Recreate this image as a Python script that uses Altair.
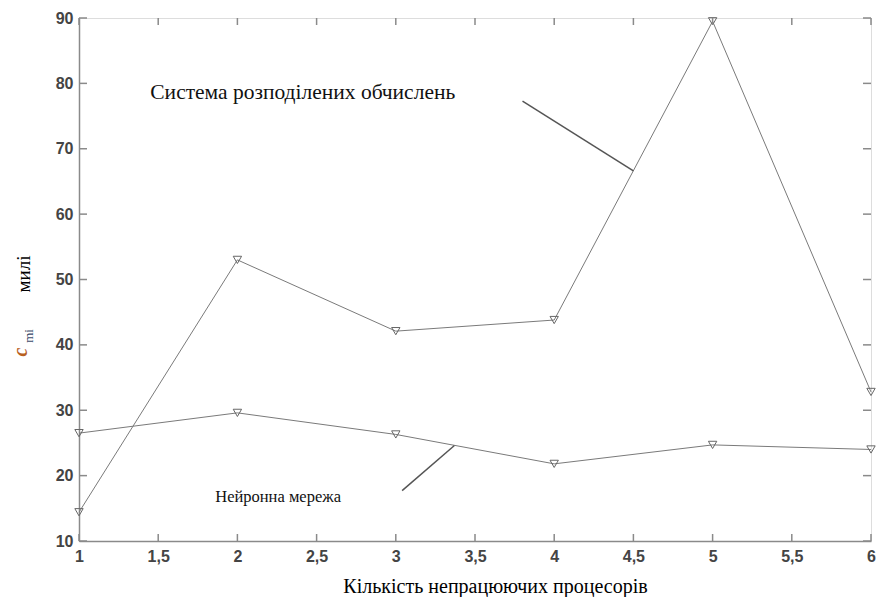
import altair as alt
import pandas as pd

# ---- data ----
x_vals = [1, 2, 3, 4, 5, 6]
system_vals = [14.4, 53.0, 42.1, 43.8, 89.5, 32.8]
neural_vals = [26.5, 29.6, 26.3, 21.8, 24.7, 24.0]
series_names = ["Система розподілених обчислень", "Нейронна мережа"]

x_ticks = [1, 1.5, 2, 2.5, 3, 3.5, 4, 4.5, 5, 5.5, 6]
y_ticks = [10, 20, 30, 40, 50, 60, 70, 80, 90]

label_texts = ["Система розподілених обчислень", "Нейронна мережа"]
label_x = [1.45, 1.86]
label_y = [78.5, 16.8]
label_sizes = [21.5, 16.5]
leader_x = [3.80, 3.04]
leader_y = [77.3, 17.7]
leader_x2 = [4.50, 3.37]
leader_y2 = [66.6, 24.6]

x_title = "Кількість непрацюючих процесорів"

W, H = 792, 523
AX = "#8a8a8a"

xs = alt.Scale(domain=[1, 6], nice=False, zero=False)
ys = alt.Scale(domain=[10, 90], nice=False, zero=False)

rows = []
for name, vals in zip(series_names, [system_vals, neural_vals]):
    for xv, yv in zip(x_vals, vals):
        rows.append({"x": xv, "y": yv, "series": name})
df = pd.DataFrame(rows)

base = alt.Chart(df)
lines = base.mark_line(color="#7a7a7a", strokeWidth=1).encode(
    x=alt.X("x:Q", scale=xs, axis=alt.Axis(
        values=x_ticks, tickSize=0, grid=False, labelFlush=False, labelOverlap=False,
        labelExpr="replace(toString(datum.value), '.', ',')",
        labelFont="Liberation Sans", labelFontSize=16, labelFontWeight="bold",
        labelColor="#444", labelPadding=7, domainColor=AX, domainWidth=1.5,
        title=x_title, titleFont="Liberation Serif", titleFontSize=20,
        titleFontWeight="normal", titleColor="#000", titleY=51, titleX=416,
        titleAlign="center", titleBaseline="alphabetic")),
    y=alt.Y("y:Q", scale=ys, axis=alt.Axis(
        values=y_ticks, tickSize=0, grid=False, labelFlush=False, labelOverlap=False,
        labelFont="Liberation Sans", labelFontSize=16, labelFontWeight="bold",
        labelColor="#444", labelPadding=6, domainColor=AX, domainWidth=1.5, title=None)),
    detail="series:N",
)
points = base.mark_point(shape="triangle-down", filled=False, size=70,
                         color="#666", strokeWidth=1, opacity=1).encode(
    x=alt.X("x:Q", scale=xs), y=alt.Y("y:Q", scale=ys), detail="series:N")

# inward ticks
xt = pd.DataFrame({"x": x_ticks})
yt = pd.DataFrame({"y": y_ticks})
tick_style = dict(color=AX, strokeWidth=1.5)
bt = alt.Chart(xt).mark_rule(**tick_style).encode(
    x=alt.X("x:Q", scale=xs), y=alt.value(H), y2=alt.value(H - 7))
tt = alt.Chart(xt).mark_rule(**tick_style).encode(
    x=alt.X("x:Q", scale=xs), y=alt.value(0), y2=alt.value(7))
lt = alt.Chart(yt).mark_rule(**tick_style).encode(
    y=alt.Y("y:Q", scale=ys), x=alt.value(0), x2=alt.value(8))
rt = alt.Chart(yt).mark_rule(**tick_style).encode(
    y=alt.Y("y:Q", scale=ys), x=alt.value(W), x2=alt.value(W - 8))

# annotations
ann = pd.DataFrame({"t": label_texts, "x": label_x, "y": label_y, "s": label_sizes,
                    "x1": leader_x, "y1": leader_y, "x2": leader_x2, "y2": leader_y2})
texts = []
for i in range(len(label_texts)):
    texts.append(alt.Chart(ann.iloc[[i]]).mark_text(
        align="left", baseline="middle", font="Liberation Serif",
        fontSize=label_sizes[i], color="#111").encode(
        x=alt.X("x:Q", scale=xs), y=alt.Y("y:Q", scale=ys), text="t:N"))
leaders = alt.Chart(ann).mark_rule(color="#555", strokeWidth=1.5).encode(
    x=alt.X("x1:Q", scale=xs), y=alt.Y("y1:Q", scale=ys),
    x2="x2:Q", y2="y2:Q")

# y-axis title pieces
yt1 = alt.Chart(pd.DataFrame({"t": ["милі"]})).mark_text(
    angle=270, font="Liberation Serif", fontSize=19, color="#000",
    align="center", baseline="middle").encode(
    text="t:N", x=alt.value(-55), y=alt.value(256))
yt2 = alt.Chart(pd.DataFrame({"t": ["c"]})).mark_text(
    angle=270, font="Liberation Serif", fontSize=20, fontStyle="italic",
    fontWeight="bold", color="#b8611f", align="center", baseline="middle").encode(
    text="t:N", x=alt.value(-58), y=alt.value(334))
yt3 = alt.Chart(pd.DataFrame({"t": ["mi"]})).mark_text(
    angle=270, font="Liberation Serif", fontSize=13, color="#3b4a6b",
    align="center", baseline="middle").encode(
    text="t:N", x=alt.value(-50), y=alt.value(318))

chart = alt.layer(lines, points, bt, tt, lt, rt, leaders, *texts, yt1, yt2, yt3).properties(
    width=W, height=H,
    autosize=alt.AutoSizeParams(type="none"),
    padding={"left": 71, "top": 10, "right": 8, "bottom": 56},
).configure_view(stroke=AX, strokeWidth=1.5).configure(background="white")

chart.save("out.html", embed_options={"renderer": "svg", "actions": False})
